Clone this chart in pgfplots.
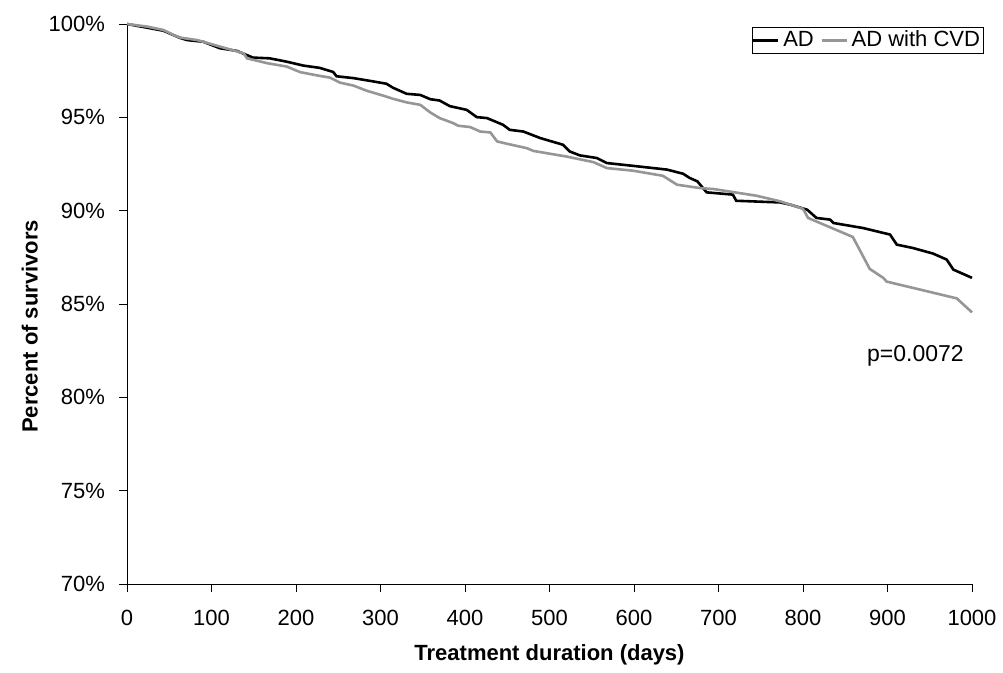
\documentclass[border=0pt]{standalone}
\usepackage{pgfplots}
\pgfplotsset{compat=1.18}
\usepackage{fontspec}
\setmainfont{Liberation Sans}

\definecolor{cvdgray}{RGB}{150,150,150}

\begin{document}
\begin{tikzpicture}
\begin{axis}[
    scale only axis,
    width=422.5pt, height=280pt,
    xmin=0, xmax=1000,
    ymin=70, ymax=100,
    xtick={0,100,...,1000},
    ytick={70,75,...,100},
    axis x line=bottom,
    axis y line=left,
    axis line style={-, thin},
    tick style={black, thin},
    tick align=outside,
    major tick length=4pt,
    yticklabel={\pgfmathprintnumber{\tick}\%},
    /pgf/number format/assume math mode=true,
    /pgf/number format/set thousands separator={},
    ticklabel style={font=\fontsize{11}{13}\selectfont},
    xticklabel style={yshift=-5.5pt},
    yticklabel style={xshift=-3.5pt},
    xlabel={\textbf{Treatment duration (days)}},
    ylabel={\textbf{Percent of survivors}},
    label style={font=\fontsize{11}{13}\selectfont},
    xlabel style={at={(axis description cs:0.5,0)}, anchor=center, yshift=-35.5pt},
    ylabel style={at={(axis description cs:-0.115,0.46)}, anchor=center},
    legend columns=2,
    legend style={at={(1,1)}, anchor=north east, xshift=6pt, yshift=-1.5pt,
        draw=black, thin, font=\fontsize{11}{12}\selectfont,
        inner xsep=0pt, inner ysep=0pt,
        nodes={inner sep=1.8pt},
        /tikz/every even column/.append style={column sep=1.5pt}},
    legend image code/.code={\draw[#1] (0pt,0pt) -- (12.5pt,0pt);},
    clip=false,
]
% AD
\addplot[black, line width=1.3pt] coordinates {
(0,100)(24,99.8)(43,99.64)(63,99.25)(71,99.14)(90,99.05)(110,98.7)(130,98.56)
(149,98.2)(169,98.16)(189,97.98)(209,97.77)(228,97.65)(244,97.43)(248,97.2)
(268,97.1)(288,96.95)(307,96.8)(315,96.58)(331,96.26)(347,96.2)(359,95.97)
(370,95.9)(382,95.6)(402,95.4)(414,95.01)(426,94.96)(445,94.6)(453,94.33)
(469,94.24)(489,93.89)(516,93.53)(524,93.17)(536,92.96)(556,92.82)(568,92.55)
(599,92.4)(639,92.2)(658,91.98)(666,91.75)(675,91.57)(686,90.98)(717,90.86)
(721,90.53)(773,90.44)(785,90.32)(805,90.05)(816,89.61)(832,89.52)(836,89.34)
(871,89.07)(903,88.72)(911,88.18)(930,88.0)(954,87.7)(970,87.38)(978,86.84)
(1000,86.4)
};
\addlegendentry{AD}
% AD with CVD
\addplot[cvdgray, line width=1.3pt] coordinates {
(0,100)(24,99.86)(43,99.68)(55,99.41)(63,99.27)(83,99.14)(110,98.79)(138,98.43)
(142,98.16)(166,97.9)(189,97.72)(205,97.42)(228,97.22)(240,97.13)(252,96.86)
(268,96.7)(284,96.42)(307,96.11)(315,95.99)(331,95.8)(347,95.67)(359,95.26)
(370,94.96)(386,94.69)(392,94.55)(406,94.48)(418,94.24)(430,94.19)(438,93.71)
(450,93.58)(473,93.35)(481,93.2)(520,92.9)(552,92.6)(568,92.28)(599,92.14)
(634,91.87)(651,91.39)(678,91.21)(694,91.16)(745,90.8)(773,90.5)(800,90.1)
(806,89.61)(859,88.59)(879,86.88)(895,86.4)(899,86.2)(982,85.3)(1000,84.55)
};
\addlegendentry{AD with CVD}
\node[font=\fontsize{11.5}{13}\selectfont] at (axis cs:933,82.2) {p=0.0072};
\end{axis}
\pgfresetboundingbox
\path ([shift={(-63.5pt,-44.5pt)}]current axis.south west) rectangle
      ([shift={(438pt,292pt)}]current axis.south west);
\end{tikzpicture}
\end{document}
